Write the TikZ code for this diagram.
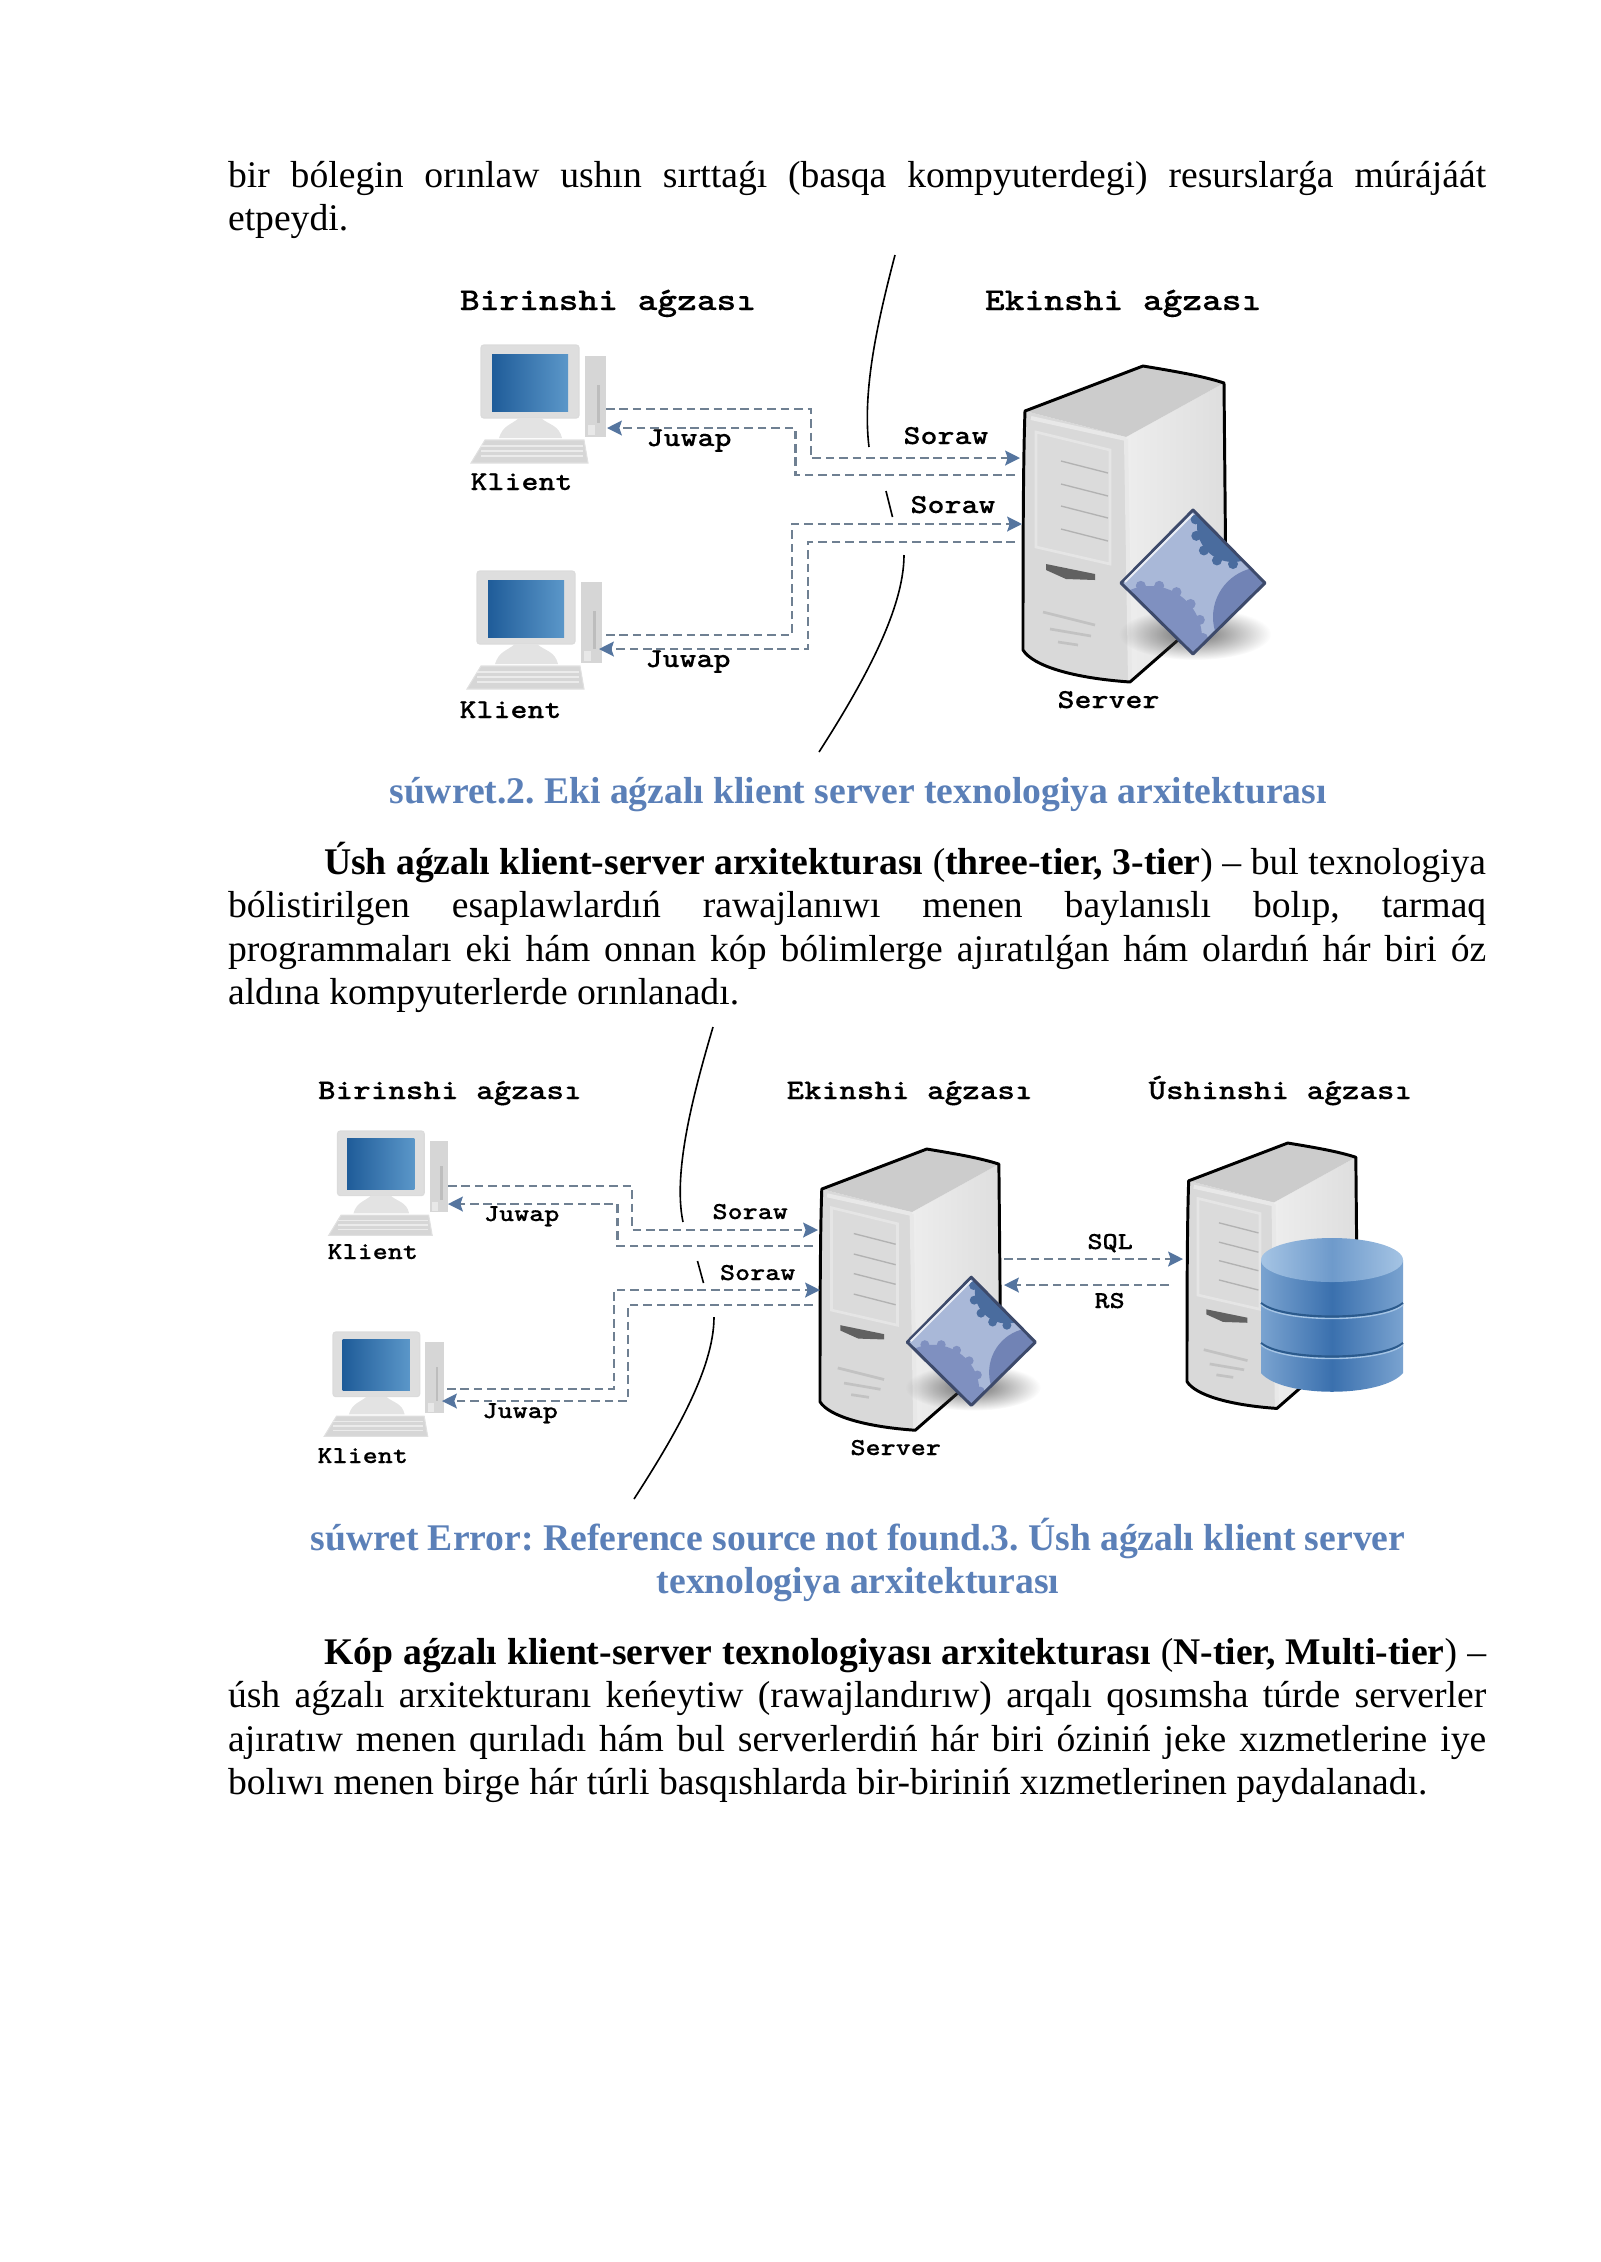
\documentclass[tikz,border=0pt]{standalone}
\usepackage{fontspec}
\setmainfont{Liberation Serif}
\newfontfamily\diagfont[FakeStretch=1.18,BoldFeatures={FakeBold=0.25}]{Latin Modern Mono Light}
\usetikzlibrary{arrows.meta,fadings}
\frenchspacing

\definecolor{capblue}{HTML}{5B80B8}
\definecolor{linkgray}{HTML}{6F8092}
\definecolor{tipblue}{HTML}{55759F}
\definecolor{screenlo}{HTML}{1F5C99}
\definecolor{screenhi}{HTML}{5B97C9}
\definecolor{gearbg}{HTML}{A9B8D8}
\definecolor{gearlo}{HTML}{7F90C0}
\definecolor{gearhi}{HTML}{4A6C9E}
\definecolor{gearar}{HTML}{7183B5}
\definecolor{gearrim}{HTML}{3D4A6B}
\definecolor{dbedge}{HTML}{7AA3D0}
\definecolor{dbmid}{HTML}{3A70AE}
\definecolor{dbtopa}{HTML}{A5C4E4}
\definecolor{dbtopb}{HTML}{6E9ACB}
\definecolor{dbline}{HTML}{2B5A8C}

\tikzfading[name=softdisc, inner color=transparent!25, outer color=transparent!100]

\tikzset{
  headA/.style={anchor=base west, inner sep=0, font=\diagfont\bfseries\fontsize{11.85}{14}\selectfont},
  headB/.style={anchor=base west, inner sep=0, font=\diagfont\bfseries\fontsize{10.55}{13}\selectfont},
  tagA/.style={anchor=base west, inner sep=0, font=\diagfont\bfseries\fontsize{10.2}{12}\selectfont},
  tagB/.style={anchor=base west, inner sep=0, font=\diagfont\bfseries\fontsize{9.05}{11}\selectfont},
  para/.style={anchor=north west, inner sep=0, text width=468pt, align=justify,
    font=\fontsize{14}{16.03}\selectfont, execute at begin node={\rule{0pt}{12pt}}},
  figcap/.style={anchor=north, inner sep=0, text width=468pt, align=center, text=capblue,
    font=\bfseries\fontsize{14}{16.03}\selectfont, execute at begin node={\spaceskip=3.45pt\rule{0pt}{12pt}}},
  link/.style={draw=linkgray, line width=.85pt, dash pattern=on 3.2pt off 1.8pt},
  linkto/.style={link, -{Stealth[length=5.5pt,width=5.5pt,inset=.9pt,color=tipblue]}},
  cut/.style={draw=black, line width=.6pt},
  klient/.pic={
    \draw[draw=black!14, fill=black!13, rounded corners=1pt] (0,0) rectangle (98,73);
    \path[left color=screenlo, right color=screenhi] (11,9) rectangle (87,66);
    \path[fill=black!11] (18,93) .. controls (22,80) and (30,80) .. (38,73) -- (60,73)
      .. controls (68,80) and (78,80) .. (81,93) -- cycle;
    \path[fill=black!16] (104,11) rectangle (125,92);
    \path[fill=black!26] (116,40) rectangle (119,78);
    \path[fill=black!9] (107,80) rectangle (114,90);
    \path[draw=black!12, fill=black!16] (4,95) -- (103,95) -- (107,118) -- (-10,118) -- cycle;
    \foreach \ky in {101,106,111}
      \draw[black!8, line width=.5pt] (0,\ky) -- (102,\ky);
  },
  server/.pic={
    \path[fill=black!15] (2,45) -- (103,71) -- (107,316) .. controls (50,312) and (10,300) .. (0,284) -- cycle;
    \path[left color=black!7, right color=black!13] (103,71) -- (201,17) -- (203,232) -- (107,316) -- cycle;
    \path[fill=black!20] (2,45) -- (120,0) -- (201,17) -- (103,71) -- cycle;
    \draw[black!9, line width=1.5pt] (8,52) -- (103,73);
    \draw[black!9, line width=1.5pt] (103,73) -- (107,314);
    % bays
    \path[draw=black!10, line width=1pt, fill=black!14] (13,66) -- (87,84) -- (87,198) -- (13,181) -- cycle;
    \foreach \by in {0,23,45,68}
      \draw[black!30, line width=.5pt] (38,95+\by) -- (85,107+\by);
    \path[fill=black!62] (23,198) -- (72,208) -- (72,214) -- (43,213) -- (23,204) -- cycle;
    \draw[black!24, line width=1pt] (20,246) -- (72,259);
    \draw[black!24, line width=1pt] (27,263) -- (68,270);
    \draw[black!24, line width=1pt] (35,276) -- (55,279);
    \draw[line width=1.1pt, line join=round] (2,45) -- (120,0) .. controls (150,5) and (180,10) .. (201,17)
      -- (203,232) -- (107,316) .. controls (50,312) and (10,300) .. (0,284)
      .. controls (0,200) and (0,100) .. (2,45) -- cycle;
  },
  gearbox/.pic={
    \path[fill=black!75, path fading=softdisc] (172,268) ellipse [x radius=76, y radius=26];
    \begin{scope}
      \clip (170,144) -- (242,217) -- (170,288) -- (98,217) -- cycle;
      \path[fill=gearbg] (95,140) rectangle (245,290);
      \path[fill=gearlo] (127,272) circle [radius=52];
      \foreach \ga in {0,20,...,340}
        \path[fill=gearlo] (127,272) ++(\ga:53) circle [radius=5];
      \path[fill=gearhi] (210,160) circle [radius=36];
      \foreach \ga in {90,115,...,270}
        \path[fill=gearhi] (210,160) ++(\ga:38) circle [radius=5];
      \path[fill=gearar] (240,251) circle [radius=50];
    \end{scope}
    \draw[draw=gearrim, line width=1.1pt, line join=round] (170,144) -- (242,217) -- (170,288) -- (98,217) -- cycle;
    \draw[white!75!gearbg, line width=.7pt] (102,216) -- (170,148);
  },
  database/.pic={
    \path[left color=dbedge, right color=dbedge, middle color=dbmid]
      (-71,0) -- (-71,113) .. controls (-50,138) and (50,138) .. (71,113) -- (71,0) -- cycle;
    \path[left color=dbtopa, right color=dbtopa, middle color=dbtopb]
      (0,0) ellipse [x radius=71, y radius=22];
    \foreach \dy in {43,83} {
      \draw[dbline, line width=.8pt] (-71,\dy) .. controls (-50,\dy+18) and (50,\dy+18) .. (71,\dy);
      \draw[dbtopa, line width=.5pt] (-71,\dy+2) .. controls (-50,\dy+20) and (50,\dy+20) .. (71,\dy+2);
    }
  },
}

\begin{document}
\begin{tikzpicture}[x=.372pt, y=-.372pt]

\useasboundingbox (0,0) rectangle (1600,2262);

%% page text
\node[para] (parOne) at (227.5,154.5) {bir bólegin orınlaw ushın sırttaǵı (basqa kompyuterdegi) resurslarǵa múrájáát\linebreak etpeydi.};
\node[figcap] (capOne) at (858,771) {súwret.2. Eki aǵzalı klient server texnologiya arxitekturası};
\node[para] (parTwo) at (227.5,842) {\hspace*{35.7pt}\textbf{Úsh aǵzalı klient-server arxitekturası} (\textbf{three-tier, 3-tier}) – bul texnologiya\linebreak
bólistirilgen esaplawlardıń rawajlanıwı menen baylanıslı bolıp, tarmaq\linebreak
programmaları eki hám onnan kóp bólimlerge ajıratılǵan hám olardıń hár biri óz\linebreak
aldına kompyuterlerde orınlanadı.};
\node[figcap] (capTwo) at (858,1518) {súwret Error: Reference source not found.3. Úsh aǵzalı klient server\\texnologiya arxitekturası};
\node[para] (parThree) at (227.5,1632) {\hspace*{35.7pt}\textbf{Kóp aǵzalı klient-server texnologiyası arxitekturası} (\textbf{N-tier, Multi-tier}) –\linebreak
úsh aǵzalı arxitekturanı keńeytiw (rawajlandırıw) arqalı qosımsha túrde serverler\linebreak
ajıratıw menen qurıladı hám bul serverlerdiń hár biri óziniń jeke xızmetlerine iye\linebreak
bolıwı menen birge hár túrli basqıshlarda bir-biriniń xızmetlerinen paydalanadı.};

%% first figure
\node[headA] (tierOneA) at (459.5,310) {Birinshi aǵzası};
\node[headA] (tierTwoA) at (984.5,310) {Ekinshi aǵzası};
\pic (pcA) at (481,345) {klient};
\pic (pcB) at (477,571) {klient};
\pic (srvA) at (1023,366) {server};
\pic (gearA) at (1023,366) {gearbox};
\node[tagA] (klientA) at (470,490) {Klient};
\node[tagA] (klientB) at (459,718) {Klient};
\node[tagA] (serverA) at (1057,708) {Server};
\node[tagA] (juwapA) at (646,446) {Juwap};
\node[tagA] (juwapB) at (645,667) {Juwap};
\node[tagA] (sorawA) at (903,444) {Soraw};
\node[tagA] (sorawB) at (910,513) {Soraw};

\coordinate (outA) at (606,409);
\coordinate (kneeA) at (811,458);
\coordinate (inA) at (1020,458);
\coordinate (backA) at (1015,475);
\coordinate (kneeB) at (795.5,428);
\coordinate (retA) at (607,428);
\coordinate (outB) at (606,635);
\coordinate (kneeC) at (792,524);
\coordinate (inB) at (1022,524);
\coordinate (backB) at (1015,542);
\coordinate (kneeD) at (808,649);
\coordinate (retB) at (599,649);

\draw[linkto] (outA) -| (kneeA) -- (inA);
\draw[linkto] (backA) -| (kneeB) -- (retA);
\draw[linkto] (outB) -| (kneeC) -- (inB);
\draw[linkto] (backB) -| (kneeD) -- (retB);

\coordinate (cutA) at (895,255);
\coordinate (cutB) at (869,447);
\coordinate (cutC) at (886,491);
\coordinate (cutD) at (892.5,517);
\coordinate (cutE) at (904,555);
\coordinate (cutF) at (819,752);
\draw[cut] (cutA) .. controls (878,320) and (862,390) .. (cutB);
\draw[cut] (cutC) -- (cutD);
\draw[cut] (cutE) .. controls (904,610) and (862,685) .. (cutF);

%% second figure
\node[headB] (tierOneB) at (317.5,1099) {Birinshi aǵzası};
\node[headB] (tierTwoB) at (786,1099) {Ekinshi aǵzası};
\node[headB] (tierThreeB) at (1148,1099) {Úshinshi aǵzası};
\pic[scale=.885] (pcC) at (337.5,1131) {klient};
\pic[scale=.885] (pcD) at (333,1332) {klient};
\pic[scale=.89] (srvB) at (820,1149) {server};
\pic[scale=.89] (gearB) at (820,1149) {gearbox};
\pic[scale=.84] (srvC) at (1187,1143) {server};
\pic (dbA) at (1332,1260) {database};
\node[tagB] (klientC) at (327,1259) {Klient};
\node[tagB] (klientD) at (317,1463) {Klient};
\node[tagB] (serverB) at (850,1455) {Server};
\node[tagB] (juwapC) at (483.5,1221) {Juwap};
\node[tagB] (juwapD) at (482,1418) {Juwap};
\node[tagB] (sorawC) at (712,1219) {Soraw};
\node[tagB] (sorawD) at (719.5,1280) {Soraw};
\node[tagB] (sqlA) at (1087,1249) {SQL};
\node[tagB] (rsA) at (1094,1308) {RS};

\coordinate (outC) at (448,1186);
\coordinate (kneeE) at (632,1230);
\coordinate (inC) at (818,1230);
\coordinate (backC) at (813,1246);
\coordinate (kneeF) at (617.5,1204);
\coordinate (retC) at (448,1204);
\coordinate (outD) at (447,1389);
\coordinate (kneeG) at (614,1290);
\coordinate (inD) at (820,1290);
\coordinate (backD) at (813,1305);
\coordinate (kneeH) at (628,1401);
\coordinate (retD) at (442,1401);
\coordinate (sqlOut) at (1004,1259);
\coordinate (sqlIn) at (1183,1259);
\coordinate (rsOut) at (1169,1285);
\coordinate (rsIn) at (1004,1285);

\draw[linkto] (outC) -| (kneeE) -- (inC);
\draw[linkto] (backC) -| (kneeF) -- (retC);
\draw[linkto] (outD) -| (kneeG) -- (inD);
\draw[linkto] (backD) -| (kneeH) -- (retD);
\draw[linkto] (sqlOut) -- (sqlIn);
\draw[linkto] (rsOut) -- (rsIn);

\coordinate (cutG) at (713,1027);
\coordinate (cutH) at (683,1222);
\coordinate (cutI) at (697.5,1261);
\coordinate (cutJ) at (703.5,1283);
\coordinate (cutK) at (714,1317);
\coordinate (cutL) at (634,1499);
\draw[cut] (cutG) .. controls (696,1085) and (672,1170) .. (cutH);
\draw[cut] (cutI) -- (cutJ);
\draw[cut] (cutK) .. controls (714,1370) and (672,1440) .. (cutL);

\end{tikzpicture}
\end{document}
